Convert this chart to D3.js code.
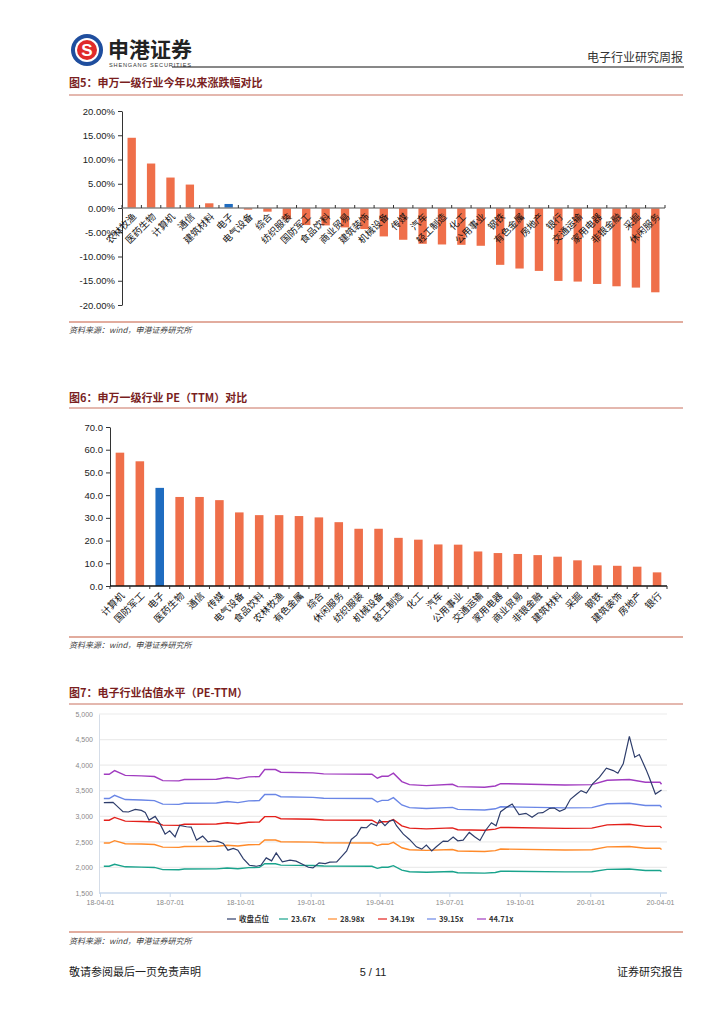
<!DOCTYPE html>
<html>
<head>
<meta charset="utf-8">
<script src="https://cdn.jsdelivr.net/npm/d3@7"></script>
<style>
	body { margin: 0; background: #fff; }
	svg text { font-family: "Noto Sans CJK SC", "Liberation Sans", sans-serif; }
	.num { font-family: "Liberation Sans", Arial, sans-serif; }
</style>
</head>
<body>
<svg id="page" width="724" height="1024"></svg>
<script>

function whenDocumentLoaded(action) {
	if (document.readyState === "loading") {
		document.addEventListener("DOMContentLoaded", action);
	} else {
		action();
	}
}

// fig 5: YTD change by SW level-1 industry (%)
const CHG_CATS = ['农林牧渔', '医药生物', '计算机', '通信', '建筑材料', '电子', '电气设备', '综合', '纺织服装', '国防军工',
	'食品饮料', '商业贸易', '建筑装饰', '机械设备', '传媒', '汽车', '轻工制造', '化工', '公用事业', '钢铁',
	'有色金属', '房地产', '银行', '交通运输', '家用电器', '非银金融', '采掘', '休闲服务'];
const CHG_VALUES = [14.48, 9.17, 6.28, 4.83, 0.97, 0.83, -0.34, -0.76, -2.34, -3.52,
	-3.59, -4.0, -4.34, -5.86, -6.55, -7.38, -7.52, -7.59, -7.79, -11.72,
	-12.48, -12.97, -15.03, -15.17, -15.66, -16.14, -16.41, -17.38];
const CHG_TICKS = [20, 15, 10, 5, 0, -5, -10, -15, -20];

// fig 6: PE (TTM)
const PE_CATS = ['计算机', '国防军工', '电子', '医药生物', '通信', '传媒', '电气设备', '食品饮料', '农林牧渔', '有色金属',
	'综合', '休闲服务', '纺织服装', '机械设备', '轻工制造', '化工', '汽车', '公用事业', '交通运输', '家用电器',
	'商业贸易', '非银金融', '建筑材料', '采掘', '钢铁', '建筑装饰', '房地产', '银行'];
const PE_VALUES = [58.7, 54.9, 43.2, 39.2, 39.2, 37.8, 32.4, 31.2, 31.2, 30.8,
	30.2, 28.1, 25.2, 25.2, 21.2, 20.4, 18.3, 18.2, 15.2, 14.5,
	14.1, 13.6, 12.9, 11.3, 9.1, 8.9, 8.5, 6.0];
const PE_TICKS = [0, 10, 20, 30, 40, 50, 60, 70];

const HIGHLIGHT = '电子';

// fig 7: index close and PE bands
const IDX_DATES = ['2018-04-06', '2018-04-18', '2018-04-25', '2018-05-01', '2018-05-08', '2018-05-17', '2018-05-25', '2018-05-30',
	'2018-06-04', '2018-06-12', '2018-06-18', '2018-06-25', '2018-07-01', '2018-07-08', '2018-07-14', '2018-07-23',
	'2018-07-29', '2018-08-05', '2018-08-13', '2018-08-20', '2018-08-27', '2018-09-02', '2018-09-09', '2018-09-15',
	'2018-09-22', '2018-09-28', '2018-10-05', '2018-10-13', '2018-10-22', '2018-10-28', '2018-11-04', '2018-11-11',
	'2018-11-17', '2018-11-25', '2018-12-05', '2018-12-13', '2018-12-22', '2018-12-29', '2019-01-04', '2019-01-12',
	'2019-01-20', '2019-01-26', '2019-02-04', '2019-02-10', '2019-02-17', '2019-02-23', '2019-03-02', '2019-03-08',
	'2019-03-15', '2019-03-21', '2019-03-28', '2019-04-01', '2019-04-08', '2019-04-14', '2019-04-19', '2019-04-23',
	'2019-05-02', '2019-05-10', '2019-05-19', '2019-05-26', '2019-06-01', '2019-06-08', '2019-06-14', '2019-06-23',
	'2019-06-29', '2019-07-06', '2019-07-12', '2019-07-19', '2019-07-27', '2019-08-03', '2019-08-10', '2019-08-17',
	'2019-08-25', '2019-08-31', '2019-09-06', '2019-09-13', '2019-09-21', '2019-09-30', '2019-10-09', '2019-10-17',
	'2019-10-25', '2019-10-31', '2019-11-09', '2019-11-15', '2019-11-22', '2019-11-29', '2019-12-06', '2019-12-14',
	'2019-12-20', '2019-12-27', '2020-01-04', '2020-01-13', '2020-01-22', '2020-01-31', '2020-02-06', '2020-02-13',
	'2020-02-21', '2020-02-28', '2020-03-05', '2020-03-14', '2020-03-18', '2020-03-26', '2020-04-03'];
const IDX_VALUES = [3266, 3273, 3175, 3090, 3084, 3136, 3116, 3077,
	2926, 2998, 2861, 2651, 2717, 2599, 2822, 2795,
	2789, 2534, 2612, 2501, 2521, 2508, 2468, 2337,
	2370, 2337, 2174, 2043, 2023, 2043, 2187, 2128,
	2285, 2108, 2141, 2122, 2056, 2004, 1991, 2089,
	2076, 2102, 2108, 2207, 2324, 2547, 2632, 2782,
	2776, 2861, 2815, 2926, 2815, 2907, 2926, 2815,
	2651, 2547, 2403, 2357, 2436, 2324, 2403, 2514,
	2508, 2593, 2521, 2534, 2684, 2599, 2527, 2717,
	2874, 2815, 3090, 3168, 3240, 3031, 3057, 2979,
	3064, 3070, 3155, 3162, 3096, 3142, 3332, 3430,
	3502, 3456, 3633, 3764, 3940, 3894, 3842, 4025,
	4562, 4156, 4208, 3907, 3757, 3436, 3515];

const BAND_DATES = ['2018-04-06', '2018-04-13', '2018-04-20', '2018-05-04', '2018-05-25', '2018-06-11', '2018-06-22', '2018-07-13',
	'2018-07-20', '2018-08-31', '2018-09-14', '2018-09-28', '2018-10-12', '2018-10-26', '2018-11-02', '2018-11-16',
	'2018-11-23', '2019-01-04', '2019-01-18', '2019-03-22', '2019-03-29', '2019-04-04', '2019-04-12', '2019-04-19',
	'2019-04-30', '2019-05-10', '2019-06-01', '2019-07-05', '2019-07-12', '2019-08-16', '2019-08-30', '2019-09-06',
	'2019-11-29', '2020-01-03', '2020-01-23', '2020-02-21', '2020-03-13', '2020-04-01', '2020-04-03'];
const BAND_2367 = [2023, 2023, 2061, 2012, 2006, 2000, 1958, 1955,
	1968, 1971, 1989, 1975, 1996, 2000, 2072, 2072,
	2045, 2038, 2027, 2023, 1982, 2003, 2003, 2034,
	1948, 1916, 1906, 1920, 1895, 1888, 1902, 1926,
	1913, 1916, 1961, 1968, 1941, 1941, 1920];
const BAND_2898 = [2477, 2477, 2524, 2463, 2457, 2448, 2397, 2393,
	2410, 2414, 2435, 2418, 2444, 2448, 2537, 2537,
	2503, 2495, 2482, 2477, 2427, 2452, 2452, 2490,
	2385, 2347, 2334, 2350, 2321, 2312, 2329, 2359,
	2342, 2347, 2402, 2410, 2376, 2376, 2350];
const BAND_3419 = [2923, 2923, 2978, 2906, 2898, 2888, 2828, 2823,
	2843, 2848, 2873, 2853, 2883, 2888, 2993, 2993,
	2953, 2943, 2928, 2923, 2863, 2893, 2893, 2938,
	2813, 2768, 2753, 2773, 2738, 2728, 2748, 2783,
	2763, 2768, 2833, 2843, 2803, 2803, 2773];
const BAND_3915 = [3347, 3347, 3410, 3327, 3319, 3307, 3238, 3233,
	3255, 3261, 3290, 3267, 3301, 3307, 3427, 3427,
	3382, 3370, 3353, 3347, 3278, 3312, 3312, 3364,
	3221, 3170, 3152, 3175, 3135, 3123, 3146, 3186,
	3164, 3170, 3244, 3255, 3210, 3210, 3175];
const BAND_4471 = [3822, 3822, 3894, 3800, 3790, 3777, 3698, 3692,
	3718, 3724, 3757, 3731, 3770, 3777, 3914, 3914,
	3862, 3849, 3829, 3822, 3744, 3783, 3783, 3842,
	3679, 3620, 3600, 3626, 3580, 3567, 3593, 3639,
	3613, 3620, 3705, 3718, 3666, 3666, 3626];
const SERIES_NAMES = ['收盘点位', '23.67x', '28.98x', '34.19x', '39.15x', '44.71x'];
const SERIES_COLORS = ['#2e3d6b', '#19a38c', '#ff8a2a', '#e3201b', '#6a86e6', '#a13cc0'];
const VAL_TICKS = [1500, 2000, 2500, 3000, 3500, 4000, 4500, 5000];
const DATE_TICKS = ['2018-04-01', '2018-07-01', '2018-10-01', '2019-01-01', '2019-04-01', '2019-07-01', '2019-10-01', '2020-01-01', '2020-04-01'];

const BAR_COLOR = '#ef6f4a';
const BAR_BLUE = '#1f6cc0';
const TITLE_COLOR = '#7a1f1f';
const RULE_COLOR = '#c9705e';

function drawPage(svg) {
	// logo
	const logo = svg.append('g').attr('transform', 'translate(87,50)');
	logo.append('circle').attr('r', 16).attr('fill', '#1f4e9e');
	logo.append('circle').attr('r', 12).attr('fill', '#fff');
	logo.append('circle').attr('r', 10).attr('fill', '#e02a2a');
	logo.append('text').attr('text-anchor', 'middle').attr('y', 6).attr('font-size', 17).attr('font-weight', 'bold')
		.attr('fill', '#fff').attr('class', 'num').text('S');
	svg.append('text').attr('x', 108).attr('y', 57).attr('font-size', 21).attr('font-weight', 'bold')
		.attr('fill', '#222').text('申港证券');
	svg.append('text').attr('x', 109).attr('y', 67).attr('font-size', 5.6).attr('class', 'num')
		.attr('fill', '#333').attr('textLength', 82).text('SHENGANG SECURITIES');
	svg.append('line').attr('x1', 172).attr('x2', 684).attr('y1', 67).attr('y2', 67)
		.attr('stroke', '#111').attr('stroke-width', 1);
	svg.append('text').attr('x', 683).attr('y', 62).attr('text-anchor', 'end').attr('font-size', 12)
		.attr('fill', '#333').text('电子行业研究周报');

	// figure titles, rules and sources
	const heads = [
		{ y: 87, t: '图5：申万一级行业今年以来涨跌幅对比', rule: 95, src: 333, srcRule: 322 },
		{ y: 402, t: '图6：申万一级行业 PE（TTM）对比', rule: 408, src: 648, srcRule: 637 },
		{ y: 697, t: '图7：电子行业估值水平（PE-TTM）', rule: 704, src: 944, srcRule: 932 }
	];
	heads.forEach((h) => {
		svg.append('text').attr('x', 69).attr('y', h.y).attr('font-size', 11).attr('font-weight', 'bold')
			.attr('fill', TITLE_COLOR).text(h.t);
		svg.append('line').attr('x1', 69).attr('x2', 683).attr('y1', h.rule).attr('y2', h.rule)
			.attr('stroke', RULE_COLOR).attr('stroke-width', 1);
		svg.append('line').attr('x1', 69).attr('x2', 683).attr('y1', h.srcRule).attr('y2', h.srcRule)
			.attr('stroke', '#d9907e').attr('stroke-width', 1.3);
		svg.append('text').attr('x', 69).attr('y', h.src).attr('font-size', 8).attr('font-style', 'italic')
			.attr('fill', '#444').text('资料来源：wind，申港证券研究所');
	});

	// footer
	svg.append('text').attr('x', 69).attr('y', 976).attr('font-size', 11).attr('fill', '#222').text('敬请参阅最后一页免责声明');
	svg.append('text').attr('x', 373).attr('y', 976).attr('text-anchor', 'middle').attr('font-size', 11)
		.attr('class', 'num').attr('fill', '#222').text('5 / 11');
	svg.append('text').attr('x', 683).attr('y', 976).attr('text-anchor', 'end').attr('font-size', 11)
		.attr('fill', '#222').text('证券研究报告');
}

function drawBars(svg, cats, values, opt) {
	const n = cats.length;
	const x = d3.scaleBand().domain(cats).range([opt.x0, opt.x1]).paddingInner(0.57).paddingOuter(0.285);
	const y = d3.scaleLinear().domain(opt.domain).range([opt.yb, opt.yt]);
	const g = svg.append('g');

	g.selectAll('rect.bar')
		.data(values)
		.enter().append('rect')
		.attr('x', (d, i) => x(cats[i]))
		.attr('width', x.bandwidth())
		.attr('y', (d) => y(Math.max(0, d)))
		.attr('height', (d) => Math.abs(y(d) - y(0)))
		.attr('fill', (d, i) => cats[i] === HIGHLIGHT ? BAR_BLUE : BAR_COLOR);

	// y axis
	const ya = g.append('g').attr('transform', `translate(${opt.x0},0)`)
		.call(d3.axisLeft(y).tickValues(opt.ticks).tickSize(4).tickSizeOuter(0).tickFormat(opt.fmt));
	ya.selectAll('path, line').attr('stroke', '#333');
	ya.selectAll('text').attr('class', 'num').attr('font-size', 9.5).attr('fill', '#222');

	// category axis at zero
	const y0 = y(0);
	g.append('line').attr('x1', opt.x0).attr('x2', opt.x1).attr('y1', y0).attr('y2', y0)
		.attr('stroke', opt.axisColor).attr('stroke-width', 1.6);
	const bounds = d3.range(n + 1).map((i) => opt.x0 + i * x.step());
	g.selectAll('line.tk')
		.data(bounds)
		.enter().append('line')
		.attr('x1', (d) => d).attr('x2', (d) => d)
		.attr('y1', y0).attr('y2', y0 + opt.tickDir * 3)
		.attr('stroke', '#333');

	g.selectAll('text.cat')
		.data(cats)
		.enter().append('text')
		.attr('transform', (d) => `translate(${x(d) + x.bandwidth() / 2 + opt.lx},${y0 + opt.ly}) rotate(-45)`)
		.attr('text-anchor', 'end')
		.attr('dy', '0.35em')
		.attr('font-size', 9.5)
		.attr('fill', '#111')
		.text((d) => d);
}

function drawValuation(svg) {
	const parse = d3.timeParse('%Y-%m-%d');
	const x = d3.scaleTime().domain([parse('2018-04-01'), parse('2020-04-01')]).range([100, 660]);
	const y = d3.scaleLinear().domain([1500, 5000]).range([893, 714]);
	const g = svg.append('g');

	// grid
	g.selectAll('line.grid')
		.data(VAL_TICKS.filter((d) => d > 1500))
		.enter().append('line')
		.attr('x1', 99).attr('x2', 667)
		.attr('y1', (d) => y(d)).attr('y2', (d) => y(d))
		.attr('stroke', '#ececec').attr('stroke-width', 1.2);

	const ya = g.append('g').attr('transform', 'translate(99,0)')
		.call(d3.axisLeft(y).tickValues(VAL_TICKS).tickSize(0).tickPadding(6).tickFormat(d3.format(',')));
	ya.select('path').attr('stroke', '#d5dde8');
	ya.selectAll('text').attr('class', 'num').attr('font-size', 7).attr('fill', '#888');

	const xa = g.append('g').attr('transform', 'translate(0,893)')
		.call(d3.axisBottom(x).tickValues(DATE_TICKS.map(parse)).tickSize(4).tickSizeOuter(0)
			.tickFormat(d3.timeFormat('%y-%m-%d')));
	xa.select('path').attr('d', 'M99,0H667').attr('stroke', '#c8d8ec').attr('stroke-width', 1.5);
	xa.selectAll('line').attr('stroke', '#c8d8ec');
	xa.selectAll('text').attr('class', 'num').attr('font-size', 7).attr('fill', '#888');

	const line = d3.line().x((d) => x(d[0])).y((d) => y(d[1]));
	const bands = [BAND_2367, BAND_2898, BAND_3419, BAND_3915, BAND_4471];
	bands.forEach((vals, k) => {
		const pts = BAND_DATES.map((dt, i) => [parse(dt), vals[i]]);
		g.append('path').datum(pts).attr('d', line).attr('fill', 'none')
			.attr('stroke', SERIES_COLORS[k + 1]).attr('stroke-width', 1.4);
	});
	const idx = IDX_DATES.map((dt, i) => [parse(dt), IDX_VALUES[i]]);
	g.append('path').datum(idx).attr('d', line).attr('fill', 'none')
		.attr('stroke', SERIES_COLORS[0]).attr('stroke-width', 1.2);

	// legend
	const lx = [227, 279, 328, 378, 427, 477];
	SERIES_NAMES.forEach((name, i) => {
		g.append('line').attr('x1', lx[i]).attr('x2', lx[i] + 9).attr('y1', 919).attr('y2', 919)
			.attr('stroke', SERIES_COLORS[i]).attr('stroke-width', 1.2);
		g.append('text').attr('x', lx[i] + 12).attr('y', 922).attr('font-size', 7.5).attr('font-weight', 'bold')
			.attr('fill', '#333').text(name);
	});
}

whenDocumentLoaded(() => {
	const svg = d3.select('#page');
	drawPage(svg);
	drawBars(svg, CHG_CATS, CHG_VALUES, {
		x0: 122, x1: 665, yt: 111, yb: 305, domain: [-20, 20], ticks: CHG_TICKS,
		fmt: (d) => d.toFixed(2) + '%', axisColor: '#888', tickDir: -1, lx: 3, ly: 7
	});
	drawBars(svg, PE_CATS, PE_VALUES, {
		x0: 110, x1: 667, yt: 427, yb: 586, domain: [0, 70], ticks: PE_TICKS,
		fmt: (d) => d.toFixed(1), axisColor: '#111', tickDir: 1, lx: 3, ly: 8
	});
	drawValuation(svg);
});
</script>
</body>
</html>
